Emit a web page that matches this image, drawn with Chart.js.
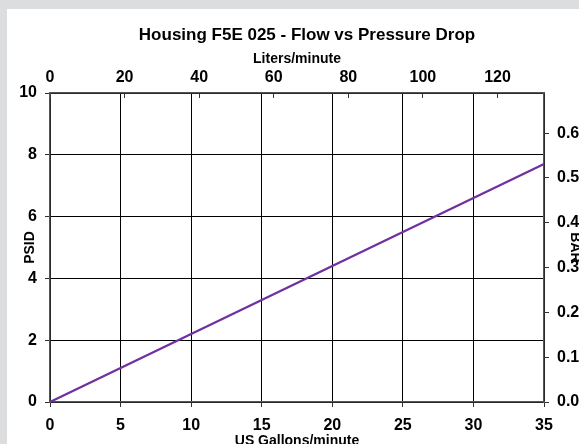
<!DOCTYPE html>
<html lang="en">
<head>
<meta charset="UTF-8">
<title>Housing F5E 025 - Flow vs Pressure Drop</title>
<script src="https://cdn.jsdelivr.net/npm/chart.js"></script>
<style>
  html, body { margin: 0; padding: 0; overflow: hidden; }
  body { background: #dcdddf; width: 579px; height: 444px; position: relative; }
  .panel { position: absolute; left: 7px; top: 9px; width: 600px; height: 450px; background: #fff; }
  canvas { position: absolute; left: 0; top: 0; }
</style>
</head>
<body>
<div class="panel">
  <canvas id="chart" width="600" height="450"></canvas>
</div>
<script>
// flow in US gallons/minute vs pressure drop in PSID
const flowGpm = [0, 35];
const dropPsid = [0, 7.7];
const gpmTicks = [0, 5, 10, 15, 20, 25, 30, 35];
const lpmTicks = [0, 20, 40, 60, 80, 100, 120];
const psiTicks = [0, 2, 4, 6, 8, 10];
const barTicks = [0, 0.1, 0.2, 0.3, 0.4, 0.5, 0.6];

const LPM_PER_GPM = 3.785;
const BAR_PER_PSI = 0.06895;

const FAMILY = 'Arial, "Liberation Sans", sans-serif';
const labelFont = { family: FAMILY, size: 16, weight: 'bold' };
const titleFont = { family: FAMILY, size: 14, weight: 'bold' };

function fixTicks(list) {
  return function (scale) {
    scale.ticks = list.map(v => ({ value: v }));
  };
}

const ctx = document.querySelector('#chart').getContext('2d');
new Chart(ctx, {
  type: 'scatter',
  data: {
    datasets: [{
      data: flowGpm.map((x, i) => ({ x: x, y: dropPsid[i] })),
      showLine: true,
      borderColor: '#7030a0',
      borderWidth: 2.2,
      pointRadius: 0,
      xAxisID: 'x',
      yAxisID: 'y'
    }]
  },
  options: {
    responsive: false,
    animation: false,
    layout: { padding: 0 },
    plugins: {
      legend: { display: false },
      tooltip: { enabled: false },
      title: {
        display: true,
        text: 'Housing F5E 025 - Flow vs Pressure Drop',
        color: '#000',
        font: { family: FAMILY, size: 17, weight: 'bold' },
        padding: { top: 16, bottom: 0 }
      }
    },
    scales: {
      x: {
        type: 'linear', position: 'bottom', min: 0, max: 35,
        afterBuildTicks: fixTicks(gpmTicks),
        afterFit: s => { s.height = 57; },
        grid: { color: '#000', lineWidth: 1, tickLength: 5, tickColor: '#333' },
        border: { color: '#555', width: 1.5 },
        ticks: { color: '#000', font: labelFont, padding: 9, maxRotation: 0 },
        title: { display: true, text: 'US Gallons/minute', color: '#000', font: titleFont, padding: { top: 0, bottom: 9.6 } }
      },
      x2: {
        type: 'linear', position: 'top', min: 0, max: 35 * LPM_PER_GPM,
        afterBuildTicks: fixTicks(lpmTicks),
        afterFit: s => { s.height = 47.6; },
        grid: { drawOnChartArea: false, tickLength: -5, tickColor: '#333' },
        border: { color: '#555', width: 1.5 },
        ticks: { color: '#000', font: labelFont, padding: 11, maxRotation: 0 },
        title: { display: true, text: 'Liters/minute', color: '#000', font: titleFont, padding: { top: 5, bottom: 0 } }
      },
      y: {
        type: 'linear', position: 'left', min: 0, max: 10,
        afterBuildTicks: fixTicks(psiTicks),
        afterFit: s => { s.width = 43; },
        grid: { color: '#000', lineWidth: 1, tickLength: 5, tickColor: '#333' },
        border: { color: '#555', width: 1.5 },
        ticks: { color: '#000', font: labelFont, padding: 8 },
        title: { display: true, text: 'PSID', color: '#000', font: titleFont, padding: { top: 14.6, bottom: 0 } }
      },
      y2: {
        type: 'linear', position: 'right', min: 0, max: 10 * BAR_PER_PSI,
        afterBuildTicks: fixTicks(barTicks),
        afterFit: s => { s.width = 63; },
        grid: { drawOnChartArea: false, tickLength: 5, tickColor: '#333' },
        border: { color: '#555', width: 1.5 },
        ticks: { color: '#000', font: labelFont, padding: 8, callback: v => v.toFixed(1) },
        title: { display: true, text: 'BAR', color: '#000', font: titleFont, padding: { top: 23.6, bottom: 0 } }
      }
    }
  }
});
</script>
</body>
</html>
